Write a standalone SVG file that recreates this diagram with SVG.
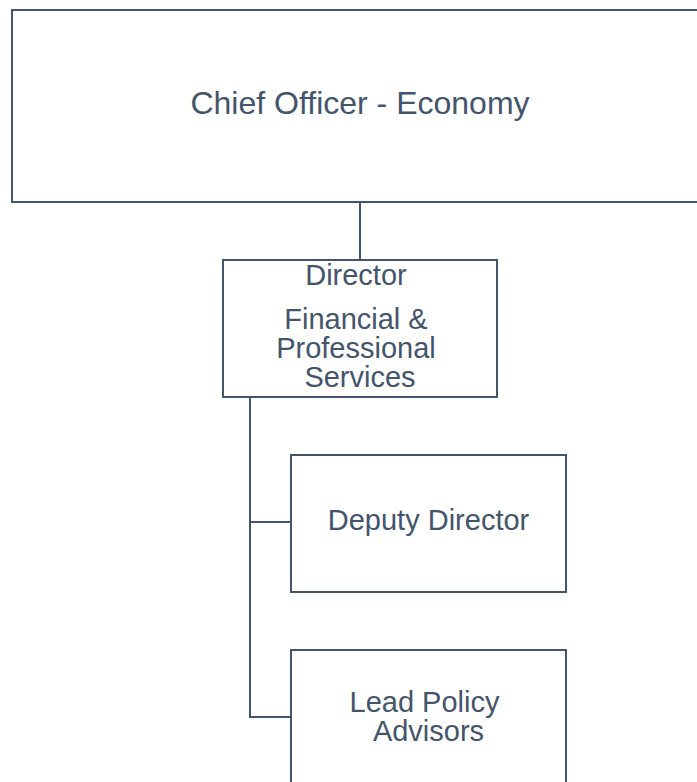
<svg xmlns="http://www.w3.org/2000/svg" width="697" height="782" viewBox="0 0 697 782">
  <style>
    .box { fill: #ffffff; stroke: #44546A; stroke-width: 2; }
    .link { fill: none; stroke: #44546A; stroke-width: 2; }
    .label { font-family: "Liberation Sans", Arial, sans-serif; fill: #44546A; text-anchor: middle; }
  </style>
  <rect width="697" height="782" fill="#ffffff"/>

  <g id="connectors">
    <path class="link" d="M360,202 V260"/>
    <path class="link" d="M250,397 V717 H291"/>
    <path class="link" d="M250,522 H291"/>
  </g>

  <g id="chief-officer">
    <rect class="box" x="12" y="10" width="700" height="192"/>
    <text class="label" x="360" y="114" font-size="32">Chief Officer - Economy</text>
  </g>

  <g id="director">
    <rect class="box" x="223" y="260" width="274" height="137"/>
    <text class="label" font-size="29">
      <tspan x="360" y="285">Director</tspan>
      <tspan x="360" y="328.5">Financial &amp;</tspan>
      <tspan x="360" y="358">Professional</tspan>
      <tspan x="360" y="387">Services</tspan>
    </text>
  </g>

  <g id="deputy-director">
    <rect class="box" x="291" y="455" width="275" height="137"/>
    <text class="label" x="428.5" y="530" font-size="29">Deputy Director</text>
  </g>

  <g id="lead-policy-advisors">
    <rect class="box" x="291" y="650" width="275" height="160"/>
    <text class="label" font-size="29">
      <tspan x="428.5" y="712">Lead Policy</tspan>
      <tspan x="428.5" y="741">Advisors</tspan>
    </text>
  </g>
</svg>
